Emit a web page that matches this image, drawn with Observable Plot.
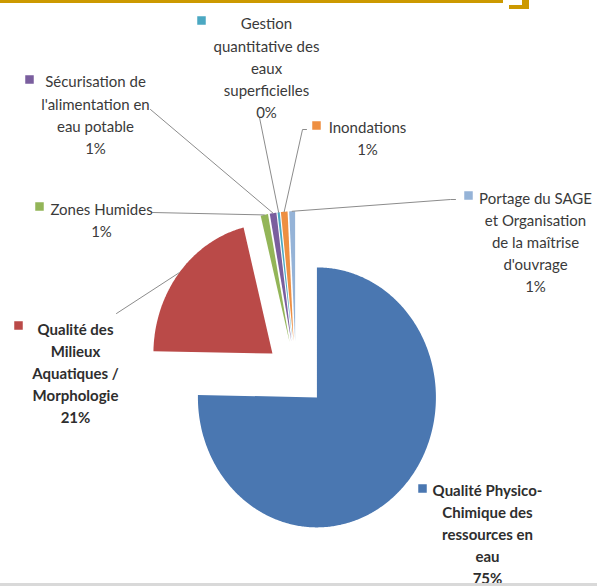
<!DOCTYPE html>
<html>
<head>
<meta charset="utf-8">
<script src="https://cdn.jsdelivr.net/npm/d3@7"></script>
<script src="https://cdn.jsdelivr.net/npm/@observablehq/plot@0.6"></script>
<style>
  html, body { margin: 0; padding: 0; background: #fff; }
  #wrap { position: relative; width: 597px; height: 586px; overflow: hidden; }
  .deco { position: absolute; }
</style>
</head>
<body>
<div id="wrap">
  <div class="deco" style="left:0;top:0;width:503px;height:3px;background:#CC9900;"></div>
  <div class="deco" style="left:509px;top:5px;width:20px;height:4px;background:#CC9900;"></div>
  <div class="deco" style="left:522px;top:0;width:7px;height:9px;background:#CC9900;"></div>
  <div class="deco" style="left:0;top:583px;width:597px;height:3px;background:#D9D9D9;"></div>
</div>
<script>
// ---- data ----
const categories = [
  "Qualité Physico-Chimique des ressources en eau",
  "Qualité des Milieux Aquatiques / Morphologie",
  "Zones Humides",
  "Sécurisation de l'alimentation en eau potable",
  "Gestion quantitative des eaux superficielles",
  "Inondations",
  "Portage du SAGE et Organisation de la maîtrise d'ouvrage"
];
const values = [75.3, 20.8, 1.0, 0.9, 0.3, 0.9, 0.8];
const colors = ["#4A77B1", "#BA4A48", "#93B558", "#7A5E9E", "#4BA8C2", "#EE8F42", "#95B3D7"];

// ---- layout (pixels) ----
const W = 597, H = 586;
const CX = 295.4, CY = 373.5;   // pie centre
const RX = 119, RY = 130;       // radius (slightly stretched vertically)
const EXPLODE = 30;             // explosion distance
const labelLayout = [
  {lines: "Qualité Physico-\nChimique des\nressources en\neau", x: 487, y: 532.5, bold: true,  key: [422, 488], lead: null},
  {lines: "Qualité des\nMilieux\nAquatiques /\nMorphologie", x: 75, y: 371.5, bold: true, key: [18, 325], lead: [[116, 313]]},
  {lines: "Zones Humides", x: 101, y: 218.5, bold: false, key: [39, 206], lead: [[152, 212]]},
  {lines: "Sécurisation de\nl'alimentation en\neau potable", x: 95, y: 113, bold: false, key: [29, 79], lead: [[150, 109]]},
  {lines: "Gestion\nquantitative des\neaux\nsuperficielles", x: 266, y: 66, bold: false, key: [201, 20], lead: [[259, 117]]},
  {lines: "Inondations", x: 367, y: 136.5, bold: false, key: [316, 125], lead: [[306, 129], [302, 129]]},
  {lines: "Portage du SAGE\net Organisation\nde la maîtrise\nd'ouvrage", x: 535, y: 240.5, bold: false, key: [468, 195], lead: [[455, 199], [450, 199]]}
];

const total = d3.sum(values);
const arcs = d3.pie().sort(null).value(d => d)(values);

const slicePts = [];
const leaderPts = [];
const labels = [];
const keys = [];
arcs.forEach((a, i) => {
  const mid = (a.startAngle + a.endAngle) / 2;
  const ax = CX + EXPLODE * Math.sin(mid);
  const ay = CY - EXPLODE * (RY / RX) * Math.cos(mid);
  const pts = [{x: ax, y: ay}];
  const n = Math.max(2, Math.ceil((a.endAngle - a.startAngle) / 0.01));
  for (let k = 0; k <= n; k++) {
    const t = a.startAngle + (a.endAngle - a.startAngle) * k / n;
    pts.push({x: ax + RX * Math.sin(t), y: ay - RY * Math.cos(t)});
  }
  pts.push({x: ax, y: ay});
  slicePts.push({pts, color: colors[i]});

  const L = labelLayout[i];
  const pct = Math.round(values[i] / total * 100) + "%";
  labels.push({x: L.x, y: L.y, text: L.lines + "\n" + pct, bold: L.bold});
  keys.push({x: L.key[0], y: L.key[1], color: colors[i]});
  if (L.lead) {
    L.lead.forEach(p => leaderPts.push({x: p[0], y: p[1], id: i}));
    leaderPts.push({x: ax + RX * Math.sin(mid), y: ay - RY * Math.cos(mid), id: i});
  }
});

const chart = Plot.plot({
  width: W,
  height: H,
  margin: 0,
  x: {domain: [0, W], range: [0, W], axis: null},
  y: {domain: [0, H], range: [0, H], axis: null},
  style: {fontFamily: "Lato, 'Open Sans', sans-serif", background: "transparent"},
  marks: [
    ...slicePts.map(s => Plot.line(s.pts, {x: "x", y: "y", fill: s.color, stroke: "none", curve: "linear"})),
    Plot.line(leaderPts, {x: "x", y: "y", z: "id", stroke: "#8C8C8C", strokeWidth: 1}),
    Plot.dot(keys, {x: "x", y: "y", fill: "color", symbol: "square", r: 4.8, stroke: "none"}),
    Plot.text(labels.filter(d => !d.bold), {x: "x", y: "y", text: "text", textAnchor: "middle", lineAnchor: "middle", lineHeight: 1.47, fontSize: 15, fill: "#3A3A3A"}),
    Plot.text(labels.filter(d => d.bold), {x: "x", y: "y", text: "text", textAnchor: "middle", lineAnchor: "middle", lineHeight: 1.47, fontSize: 15, fontWeight: "bold", fill: "#2E2E2E"})
  ]
});
chart.style.position = "absolute";
chart.style.left = "0";
chart.style.top = "0";
document.getElementById("wrap").prepend(chart);
</script>
</body>
</html>
